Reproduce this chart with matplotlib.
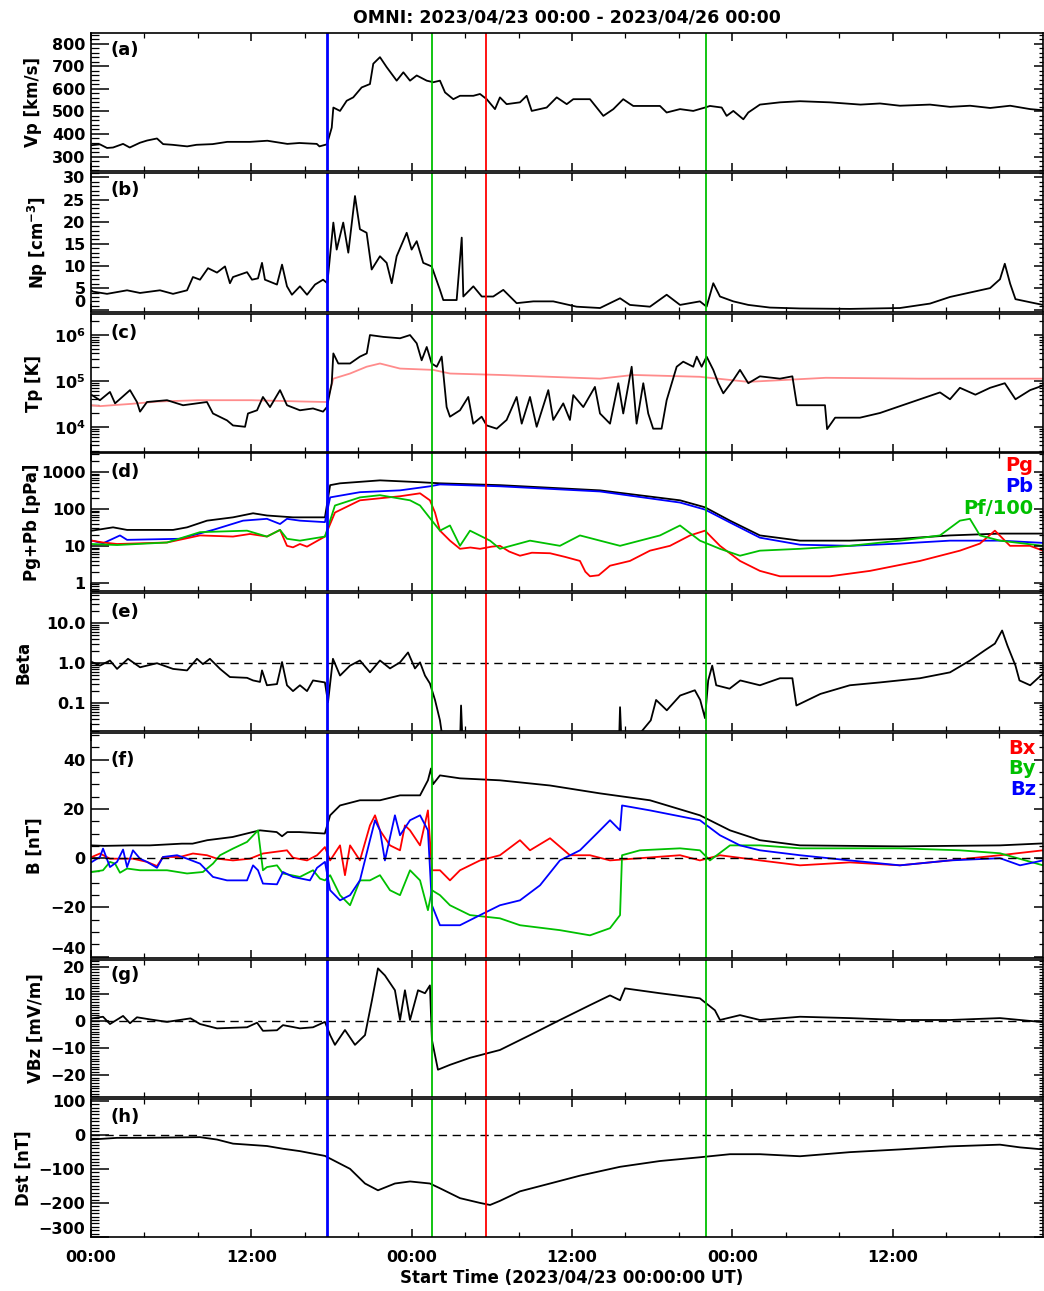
import numpy as np
import matplotlib.pyplot as plt
from matplotlib.ticker import MultipleLocator, FixedLocator, LogLocator, NullFormatter, FuncFormatter

plt.rcParams['font.family'] = ['DejaVu Sans']
plt.rcParams['font.weight'] = 'bold'
plt.rcParams['mathtext.default'] = 'bf'

# ---------------- data (hours since 2023/04/23 00:00) ----------------
t_vp = [0, 0.67, 1.2, 1.65, 2.4, 2.9, 3.66, 4.2, 4.94, 5.4, 6.1, 7.2, 7.9, 9.1, 10.2, 11.9, 13.2, 14.7,
        15.6, 16.9, 17.1, 17.66, 18.02, 18.14, 18.64, 19.14, 19.63, 20.26, 20.88, 21.13, 21.63, 22.13,
        22.88, 23.38, 23.88, 24.38, 25.13, 25.62, 26.12, 26.5, 27.12, 27.62, 28.62, 29.12, 29.62, 30.24,
        30.61, 31.11, 32.11, 32.61, 32.99, 34.11, 34.86, 35.61, 36.1, 37.35, 38.35, 39.1, 39.84, 40.59,
        41.84, 42.59, 43.09, 44.09, 45.08, 45.96, 46.33, 47.21, 47.58, 48.08, 48.83, 49.2, 50.07, 51.57,
        53.07, 55.3, 57.6, 59.06, 60.55, 62.8, 64.3, 65.8, 67.3, 68.8, 70.3, 71.26]
vp = [350, 354, 338, 340, 356, 340, 361, 371, 380, 355, 352, 345, 352, 355, 365, 365, 370, 356,
      360, 356, 345, 354, 428, 517, 502, 547, 562, 606, 621, 711, 740, 696,
      636, 673, 636, 659, 636, 629, 636, 584, 554, 569, 569, 577, 554, 510,
      562, 532, 540, 569, 502, 517, 562, 532, 554, 554, 480, 510, 554, 524,
      524, 524, 495, 510, 502, 517, 524, 517, 480, 502, 465, 495, 530, 540,
      545, 540, 530, 535, 525, 530, 520, 525, 515, 525, 510, 505]

t_np = [0, 0.15, 1.2, 2.7, 3.67, 5.16, 6.14, 7.19, 7.63, 8.16, 8.76, 9.43, 10.03, 10.4, 10.63, 11.68,
        12.05, 12.5, 12.8, 13.02, 13.92, 14.3, 14.67, 15.04, 15.64, 16.17, 16.77, 17.37, 17.69, 18.14,
        18.39, 18.88, 19.26, 19.76, 20.13, 20.63, 21.01, 21.63, 22.13, 22.51, 22.88, 23.63, 24.0, 24.38,
        24.87, 25.5, 26.12, 26.37, 27.37, 27.75, 27.87, 28.62, 29.25, 30.11, 30.86, 31.86, 33.11, 34.6,
        36.35, 38.1, 39.6, 40.34, 41.84, 43.09, 44.09, 45.58, 46.08, 46.58, 47.08, 48.08, 49.2, 50.82,
        53.07, 56.8, 60.55, 62.8, 64.3, 65.8, 67.3, 68.04, 68.4, 68.8, 69.2, 70.3, 71.26]
np_ = [4.5, 4.2, 3.7, 4.5, 3.9, 4.5, 3.7, 4.5, 7.5, 6.9, 9.5, 8.5, 9.9, 6.1, 7.5, 8.6,
       6.9, 7.2, 10.7, 6.9, 5.8, 10.3, 5.4, 3.5, 5.4, 3.5, 5.8, 6.9, 6.1, 19.8,
       13.7, 19.8, 13.0, 25.8, 18.3, 17.5, 9.2, 12.2, 10.7, 6.1, 12.2, 17.5, 13.7, 15.6,
       10.7, 9.9, 4.6, 2.3, 2.3, 16.4, 3.1, 5.4, 3.1, 3.1, 4.6, 1.6, 2.0, 2.0,
       0.8, 0.5, 2.7, 1.2, 0.8, 3.5, 1.2, 2.0, 0.8, 6.1, 3.1, 2.0, 1.2, 0.6,
       0.4, 0.3, 0.5, 1.5, 3.0, 4.0, 5.0, 7.0, 10.5, 6.0, 2.5, 1.8, 1.2]

t_tp = [0.07, 0.67, 1.42, 1.8, 2.92, 3.44, 3.67, 4.19, 5.69, 6.89, 8.68, 9.13, 10.18, 10.63, 11.53,
        11.75, 12.43, 12.87, 13.4, 14.15, 14.67, 15.64, 16.62, 17.37, 17.66, 18.02, 18.14, 18.51, 19.39,
        20.13, 20.64, 20.88, 21.88, 23.13, 23.88, 24.38, 24.75, 25.13, 25.5, 25.88, 26.25, 26.62, 26.87,
        27.62, 28.24, 28.61, 29.24, 29.62, 30.37, 31.11, 31.86, 32.24, 32.86, 33.36, 34.23, 34.6, 35.35,
        35.85, 36.1, 36.85, 37.72, 38.1, 38.85, 39.47, 39.84, 40.47, 40.84, 41.34, 41.71, 42.08, 42.71,
        43.09, 43.84, 44.33, 45.08, 45.34, 45.71, 46.08, 46.58, 46.96, 47.33, 48.08, 48.58, 49.2, 50.07,
        51.57, 52.5, 52.84, 54.94, 55.1, 55.7, 57.56, 59.06, 60.55, 62.05, 63.55, 64.3, 65.04, 66.2,
        67.3, 68.4, 69.2, 70.3, 71.26]
tp = [49000, 38000, 57500, 32400, 63000, 34700, 21400, 34700, 38000, 29500, 34700, 19500, 13800, 10700, 10000,
      19500, 22900, 44700, 26900, 63000, 29500, 22900, 25100, 21400, 26900, 89000, 398000, 240000, 240000,
      339000, 398000, 1000000, 912000, 851000, 1000000, 661000, 282000, 550000, 240000, 204000, 339000, 26900, 16600,
      22900, 44700, 11700, 16600, 10700, 9100, 14100, 44700, 11700, 44700, 10000, 63000, 14100, 32400,
      14100, 49000, 26900, 74100, 19500, 11700, 89100, 19500, 204000, 11700, 89100, 19500, 9100, 9100,
      38000, 204000, 263000, 204000, 339000, 204000, 339000, 174000, 89100, 53700, 105000, 174000, 89100, 126000,
      112000, 126000, 29500, 29500, 8900, 15800, 15800, 20000, 28200, 39800, 56200, 39800, 70800, 50100,
      70800, 89100, 39800, 63100, 79400]

t_texp = [0, 0.67, 3.0, 5.0, 8.0, 12.0, 16.0, 17.66, 18.14, 19.39, 20.63, 21.63, 23.13, 25.62, 26.87,
          30.61, 38.1, 40.59, 45.58, 49.2, 55.0, 62.0, 71.26]
texp = [29500, 28200, 31600, 35500, 38000, 38000, 35500, 34700, 112000, 145000, 204000, 240000, 186000,
        174000, 145000, 135000, 112000, 135000, 123000, 95500, 117000, 112000, 112000]

t_ptot = [0.07, 1.65, 2.7, 6.14, 7.19, 8.68, 10.63, 12.13, 13.17, 15.12, 17.51, 17.9, 18.64, 21.63, 24.63,
          26.12, 30.61, 38.1, 44.09, 45.96, 47.83, 50.07, 53.07, 56.8, 60.55, 64.3, 68.04, 71.26]
ptot = [25.7, 31.6, 26.9, 26.9, 31.6, 47.9, 58.9, 75.9, 66.1, 58.9, 58.9, 437, 490, 589, 525,
        490, 437, 316, 170, 110, 47.9, 19.1, 13.8, 13.8, 15.5, 19.1, 21.4, 21.4]
t_pb = [0.07, 0.9, 2.17, 2.7, 6.66, 9.13, 11.38, 13.17, 14.15, 14.67, 15.64, 17.51, 17.9, 20.13, 23.13,
        25.37, 26.12, 30.61, 38.1, 44.09, 45.96, 47.83, 50.07, 53.07, 56.8, 60.55, 64.3, 68.04, 71.26]
pb = [13.8, 11.7, 19.1, 14.5, 15.5, 26.9, 47.9, 53.7, 38.9, 53.7, 47.9, 43.7, 204, 282, 316,
      407, 457, 407, 295, 148, 95.5, 42.7, 16.6, 10.7, 10.0, 11.5, 13.8, 13.8, 12.0]
t_pg = [0.07, 0.9, 1.95, 5.69, 8.16, 10.63, 11.9, 13.17, 14.15, 14.67, 15.12, 15.64, 16.17, 17.51, 18.26,
        20.13, 23.13, 24.63, 25.37, 25.75, 26.12, 26.87, 27.62, 28.4, 29.12, 30.0, 30.61, 31.3, 32.11,
        33.0, 34.36, 35.5, 36.6, 37.0, 37.35, 38.0, 38.85, 40.34, 41.84, 43.34, 44.84, 45.96, 47.08,
        48.58, 50.07, 51.57, 55.31, 58.31, 62.05, 65.04, 66.54, 67.66, 68.79, 70.28, 71.26]
pg = [13.8, 12.3, 11.2, 12.3, 19.1, 17.8, 20.9, 17.8, 26.9, 10, 9.1, 11.2, 9.5, 17.8, 79.4,
      170, 219, 263, 170, 79.4, 25.7, 13.8, 8.3, 9.0, 8.3, 9.5, 10, 7.0, 5.4,
      6.5, 6.3, 5.0, 3.9, 2.0, 1.5, 1.6, 2.9, 3.9, 7.4, 10, 19.1, 25.7, 10,
      3.9, 2.1, 1.5, 1.5, 2.1, 3.9, 7.4, 11.5, 25.7, 10, 10, 7.4]
t_pf = [0.07, 1.95, 5.69, 8.16, 11.68, 13.17, 14.15, 14.67, 15.64, 17.51, 18.26, 20.13, 21.63, 23.88,
        24.63, 25.52, 26.12, 26.87, 27.62, 28.37, 29.87, 30.61, 32.86, 35.1, 36.6, 38.1, 39.6, 42.59,
        44.09, 45.58, 47.08, 48.58, 50.07, 53.07, 56.8, 60.55, 63.55, 65.04, 65.79, 66.54, 68.04, 71.26]
pf = [11.2, 10.5, 12.3, 23.4, 25.7, 17.8, 26.9, 15.5, 13.8, 17.8, 123, 204, 234, 170,
      123, 47.9, 25.7, 35.5, 10, 25.7, 13.8, 8.3, 13.8, 10, 19.1, 13.8, 10, 19.1,
      35.5, 13.8, 8.3, 5.4, 7.4, 8.3, 10, 13.8, 19.1, 47.9, 53.7, 19.1, 13.8, 10]

t_beta = [0.07, 0.67, 1.42, 1.95, 2.77, 3.67, 4.94, 6.14, 7.19, 7.93, 8.38, 8.9, 9.66, 10.4, 11.68,
          12.13, 12.65, 12.8, 13.17, 13.92, 14.3, 14.67, 15.12, 15.64, 16.17, 16.62, 17.51, 17.74, 18.11,
          18.64, 19.39, 20.13, 20.88, 21.63, 22.38, 23.13, 23.73, 24.25, 24.63, 25.0, 25.37, 25.75, 26.12,
          26.5, 27.6, 27.7, 27.85, 39.5, 39.6, 39.75, 41.9, 42.3, 43.1, 44.1, 45.2, 45.6, 45.96, 46.2,
          46.5, 46.8, 47.8, 48.6, 50.07, 51.57, 52.5, 52.8, 54.6, 56.8, 59.06, 62.05, 64.3, 65.8, 66.9,
          67.66, 68.2, 68.6, 69.2, 69.5, 70.3, 71.26]
beta = [1.07, 0.87, 1.17, 0.72, 1.29, 0.79, 1.0, 0.72, 0.66, 1.29, 0.95, 1.29, 0.72, 0.45, 0.43,
        0.37, 0.34, 0.66, 0.28, 0.30, 1.07, 0.28, 0.20, 0.28, 0.20, 0.37, 0.33, 0.105, 1.29,
        0.49, 0.87, 1.17, 0.59, 1.17, 0.74, 1.05, 1.86, 0.74, 1.05, 0.49, 0.31, 0.12, 0.037,
        0.005, 0.005, 0.087, 0.005, 0.005, 0.079, 0.005, 0.037, 0.12, 0.066, 0.155, 0.21, 0.12, 0.042, 0.37,
        0.87, 0.28, 0.23, 0.37, 0.28, 0.42, 0.42, 0.087, 0.17, 0.28, 0.33, 0.42, 0.59, 1.17, 2.1,
        3.1, 6.6, 2.75, 0.87, 0.37, 0.28, 0.55]

t_bt = [0, 1, 3, 4.4, 6.8, 7.6, 8.7, 10.6, 12.1, 12.65, 13.9, 14.3, 14.7, 15.6, 17.5, 17.9, 18.64, 20.13,
        21.63, 23.13, 24.63, 25.22, 25.45, 25.6, 26.12, 27.62, 30.61, 34.36, 38.1, 41.84, 45.58, 47.83,
        50.07, 53.07, 60.55, 68.04, 71.26]
bt = [5.2, 5.0, 5.2, 5.2, 5.9, 5.9, 7.3, 8.6, 10.6, 11.3, 10.6, 8.9, 10.6, 10.6, 10.0, 17.4, 21.4, 23.5,
      23.5, 25.5, 25.5, 31.6, 36.4, 30, 33.6, 32.4, 31.6, 29.5, 26.3, 23.5, 17.4, 11.3,
      7.3, 5.2, 4.8, 5.2, 6.0]
t_bx = [0.07, 0.67, 1.42, 3.14, 4.19, 4.94, 5.39, 6.66, 7.63, 8.68, 9.43, 10.63, 11.9, 12.87, 14.67, 15.12,
        16.17, 16.92, 17.51, 17.9, 18.64, 19.01, 19.39, 20.13, 20.88, 21.26, 21.63, 22.38, 23.13, 23.5,
        23.88, 24.63, 25.22, 25.52, 26.12, 26.87, 27.62, 29.12, 30.61, 32.11, 32.86, 34.36, 35.85, 37.35,
        38.85, 41.09, 44.09, 45.58, 47.08, 50.07, 53.07, 56.8, 60.55, 64.3, 68.04, 71.26]
bx = [0.5, 1.9, -0.2, -0.2, -1.5, -3.2, 0.5, 0.5, 1.9, 1.2, -0.2, -0.9, -0.2, 1.9, 3.2, 0.2,
      -0.9, 1.2, 4.5, -0.9, 5.2, -6.9, 5.2, -0.9, 13.3, 17.4, 11.3, 5.2, 3.2, 13.3,
      11.3, 5.2, 19.4, -4.9, -4.9, -9.0, -4.9, -0.9, 1.2, 7.3, 3.2, 8.1, 1.2, 1.2,
      -0.9, 0, 1.2, -0.9, 1.2, -0.9, -2.9, -1.7, -2.9, -0.9, 1.2, 3.2]
t_by = [0.07, 0.9, 1.42, 1.8, 2.17, 2.7, 3.67, 5.69, 7.19, 8.38, 9.13, 9.66, 10.63, 11.68, 12.5, 12.87,
        13.17, 13.92, 14.37, 15.64, 16.62, 17.14, 17.51, 17.9, 18.64, 19.39, 20.13, 20.88, 21.63, 22.38,
        23.13, 23.88, 24.63, 25.22, 25.52, 26.12, 26.87, 28.37, 30.61, 32.11, 35.1, 37.35, 38.85, 39.6,
        39.75, 41.09, 44.09, 45.58, 46.33, 47.83, 50.07, 53.07, 60.55, 65.04, 68.04, 71.26]
by = [-5.6, -4.9, -1.5, -2.2, -5.9, -4.2, -4.9, -4.9, -6.2, -5.6, -2.2, 1.2, 3.9, 6.6, 11.3, -4.9,
      -3.6, -2.9, -6.2, -7.6, -4.9, -8.3, -9.0, -6.9, -15, -19.1, -9.0, -9.0, -6.9, -13,
      -15, -4.9, -9.0, -21.1, -13, -15, -19.1, -23.1, -24.4, -27.2, -29.2, -31.3, -28.4, -23.1,
      1.2, 3.2, 4.0, 3.2, -0.9, 5.2, 5.2, 4.0, 4.0, 3.2, 2.0, -2.9]
t_bz = [0.07, 0.67, 0.9, 1.42, 1.95, 2.4, 2.7, 3.14, 3.67, 4.19, 4.94, 5.39, 6.44, 7.19, 8.16, 9.13,
        10.18, 11.68, 12.13, 12.5, 12.87, 13.92, 14.37, 15.12, 16.39, 16.92, 17.51, 17.9, 18.64, 19.39,
        20.13, 20.88, 21.26, 21.63, 22.0, 22.75, 23.13, 23.88, 24.63, 25.22, 25.52, 26.12, 27.62, 29.12,
        30.61, 32.11, 33.61, 35.1, 36.6, 38.1, 38.85, 39.6, 39.75, 41.84, 45.58, 47.08, 48.58, 50.07,
        53.07, 56.8, 60.55, 64.3, 68.04, 69.54, 71.26]
bz = [-1.5, 0.5, 3.9, -3.6, -1.5, 3.5, -3.6, 3.2, -0.2, -1.5, -3.9, 0.5, 1.2, -0.2, -2.2, -7.6,
      -9.0, -9.0, -2.9, -4.9, -10.3, -10.6, -5.6, -7.6, -9.0, -3.9, -1.5, -13, -17.1, -15,
      -9.0, 7.3, 15.4, 11.3, -0.9, 17.4, 9.3, 15.4, 17.4, 11.3, -19.1, -27.2, -27.2, -23.1,
      -19.1, -17.1, -11, -0.9, 3.2, 11.3, 15.4, 11.3, 21.4, 19.4, 15.4, 9.3, 5.2, 3.2,
      1.2, -0.9, -2.9, -0.9, 0, -2.9, -0.9]

t_vbz = [0.07, 0.9, 1.42, 2.4, 2.92, 3.44, 4.44, 5.69, 7.45, 8.16, 9.43, 11.68, 12.43, 12.87, 13.92,
         14.37, 15.64, 16.62, 17.51, 17.9, 18.26, 19.01, 19.76, 20.51, 21.03, 21.48, 22.0, 22.75, 23.13,
         23.5, 23.88, 24.48, 25.0, 25.37, 25.52, 25.97, 26.87, 28.37, 30.61, 32.86, 35.1, 37.35, 38.85,
         39.6, 39.97, 42.59, 45.58, 46.7, 47.08, 48.58, 50.07, 53.07, 56.8, 60.55, 64.3, 68.04, 71.26]
vbz = [0.9, 1.5, -1.2, 1.8, -0.9, 1.3, 0.5, -0.4, 0.9, -1.2, -2.8, -2.4, -0.7, -3.7, -3.5,
       -1.6, -2.8, -2.4, -0.4, -5.3, -8.9, -3.4, -8.9, -5.3, 7.6, 19.4, 16.8, 11.3, 0.3,
       11.3, 0.3, 11.3, 10.2, 13.1, -7.1, -18.1, -16.3, -13.7, -10.8, -5.3, 0.3, 5.8, 9.4,
       7.6, 12.0, 10.2, 8.3, 3.9, 0.3, 2.1, 0.3, 1.5, 1.0, 0.3, 0.3, 1.0, -0.5]

t_dst = [0, 1.95, 4, 8.16, 9.43, 10.63, 13.17, 14.37, 15.64, 17.51, 19.39, 20.51, 21.48, 22.75, 23.88,
         25.37, 26.12, 27.62, 29.12, 29.87, 30.61, 32.11, 34.36, 36.6, 39.6, 42.59, 45.58, 47.83, 50.07,
         53.07, 56.8, 60.55, 64.3, 68.04, 69.54, 71.26]
dst = [-14, -9, -9, -7, -14, -26, -33, -41, -48, -62, -100, -143, -163, -143, -137,
       -143, -157, -186, -200, -206, -194, -166, -143, -120, -94, -77, -66, -57, -57,
       -63, -51, -43, -34, -29, -37, -43]

event_t = [17.66, 25.52, 29.57, 46.03]
event_c = ['#0000ff', '#00c000', '#ff0000', '#00c000']
event_w = [2.0, 1.3, 1.3, 1.3]

GREEN = '#00c000'
PINK = '#ff8c8c'

# ---------------- layout (pixels of a 1044x1291 image) ----------------
W, H = 1044, 1291
fig = plt.figure(figsize=(W / 100, H / 100), dpi=100)
tops = [33, 173, 314, 453, 593, 733, 960, 1099]
bots = [171, 312, 452, 591, 731, 958, 1097, 1237]
x_l, x_r = 91, 1043
axes = []
for tp_, bp_ in zip(tops, bots):
    ax = fig.add_axes([x_l / W, 1 - bp_ / H, (x_r - x_l) / W, (bp_ - tp_) / H])
    axes.append(ax)

lw = 1.3
axa, axb, axc, axd, axe, axf, axg, axh = axes

axa.plot(t_vp, vp, color='k', lw=lw)
axb.plot(t_np, np_, color='k', lw=lw)
axc.plot(t_texp, texp, color=PINK, lw=lw)
axc.plot(t_tp, tp, color='k', lw=lw)
axd.plot(t_ptot, ptot, color='k', lw=lw)
axd.plot(t_pb, pb, color='b', lw=lw)
axd.plot(t_pg, pg, color='r', lw=lw)
axd.plot(t_pf, pf, color=GREEN, lw=lw)
axe.plot(t_beta, beta, color='k', lw=lw)
axf.plot(t_bt, bt, color='k', lw=lw)
axf.plot(t_bx, bx, color='r', lw=lw)
axf.plot(t_by, by, color=GREEN, lw=lw)
axf.plot(t_bz, bz, color='b', lw=lw)
axg.plot(t_vbz, vbz, color='k', lw=lw)
axh.plot(t_dst, dst, color='k', lw=lw)

for ax, ref in [(axe, 1.0), (axf, 0), (axg, 0), (axh, 0)]:
    ax.axhline(ref, color='k', lw=1.0, dashes=(6, 4))

# y scales
ycfg = [
    ('linear', (236, 847), FixedLocator([300, 400, 500, 600, 700, 800]), MultipleLocator(20), None),
    ('linear', (-0.4, 31), FixedLocator([0, 5, 10, 15, 20, 25, 30]), MultipleLocator(1), None),
    ('log', (2820, 2.88e6), FixedLocator([1e4, 1e5, 1e6]), LogLocator(subs=np.arange(2, 10)),
     FuncFormatter(lambda v, p: r'10$^{%d}$' % round(np.log10(v)))),
    ('log', (0.6, 3236), FixedLocator([1, 10, 100, 1000]), LogLocator(subs=np.arange(2, 10)),
     FuncFormatter(lambda v, p: '%d' % round(v))),
    ('log', (0.02, 57.5), FixedLocator([0.1, 1, 10]), LogLocator(subs=np.arange(2, 10)),
     FuncFormatter(lambda v, p: '%.1f' % v)),
    ('linear', (-40.5, 50.8), FixedLocator([-40, -20, 0, 20, 40]), MultipleLocator(5), None),
    ('linear', (-28.2, 22.5), FixedLocator([-20, -10, 0, 10, 20]), MultipleLocator(1), None),
    ('linear', (-300, 105), FixedLocator([-300, -200, -100, 0, 100]), MultipleLocator(10), None),
]
ylabels = ['Vp [km/s]', 'Np [cm$^{-3}$]', 'Tp [K]', 'Pg+Pb [pPa]', 'Beta', 'B [nT]', 'VBz [mV/m]', 'Dst [nT]']
ylab_x = [42, 50, 43, 41, 32, 44, 45, 33]
tags = ['(a)', '(b)', '(c)', '(d)', '(e)', '(f)', '(g)', '(h)']
tag_y = [0.877, 0.878, 0.862, 0.865, 0.864, 0.88, 0.89, 0.87]

for i, ax in enumerate(axes):
    scale, lim, maj, mnr, fmt = ycfg[i]
    ax.set_yscale(scale)
    ax.set_ylim(lim)
    ax.yaxis.set_major_locator(maj)
    ax.yaxis.set_minor_locator(mnr)
    ax.yaxis.set_minor_formatter(NullFormatter())
    if fmt is not None:
        ax.yaxis.set_major_formatter(fmt)
    ax.set_xlim(0, 71.26)
    ax.xaxis.set_major_locator(MultipleLocator(12))
    ax.xaxis.set_minor_locator(MultipleLocator(4))
    ax.xaxis.set_major_formatter(FuncFormatter(lambda v, p: '%02d:00' % (int(round(v)) % 24)))
    ax.tick_params(axis='y', which='major', direction='in', length=13, width=1.1, labelsize=11.5, pad=4)
    ax.tick_params(axis='y', which='minor', direction='in', length=6, width=0.9)
    ax.tick_params(axis='x', which='major', direction='in', length=6, width=1.1, top=True,
                   labelsize=11.5, pad=9, labelbottom=(i == 7))
    ax.tick_params(axis='x', which='minor', direction='in', length=3.5, width=0.9, top=True)
    for s in ax.spines.values():
        s.set_linewidth(1.2)
    ax.set_ylabel(ylabels[i], fontsize=12, fontweight='bold')
    ax.yaxis.set_label_coords((ylab_x[i] - x_l) / (x_r - x_l), 0.5)
    ax.text(0.02, tag_y[i], tags[i], transform=ax.transAxes, fontsize=13, fontweight='bold',
            ha='left', va='center')
    for t, c, w in zip(event_t, event_c, event_w):
        ax.axvline(t, color=c, lw=w)
    # right-hand ticks (shorter, like IDL)
    tw = ax.twinx()
    tw.set_yscale(scale)
    tw.set_ylim(lim)
    tw.yaxis.set_major_locator(maj)
    tw.yaxis.set_minor_locator(mnr)
    tw.tick_params(axis='y', which='major', direction='in', length=6.5, width=1.1, labelright=False)
    tw.tick_params(axis='y', which='minor', direction='in', length=3, width=0.9)
    for s in tw.spines.values():
        s.set_visible(False)

# colour legends
for txt, yy, c in [('Pg', 0.906, 'r'), ('Pb', 0.754, 'b'), ('Pf/100', 0.601, GREEN)]:
    axd.text(0.9895, yy, txt, color=c, transform=axd.transAxes, fontsize=14, fontweight='bold',
             ha='right', va='center')
for txt, yy, c in [('Bx', 0.929, 'r'), ('By', 0.84, GREEN), ('Bz', 0.751, 'b')]:
    axf.text(0.9926, yy, txt, color=c, transform=axf.transAxes, fontsize=14, fontweight='bold',
             ha='right', va='center')

fig.text(567 / W, 1 - 17 / H, 'OMNI: 2023/04/23 00:00 - 2023/04/26 00:00', ha='center', va='center',
         fontsize=12.5, fontweight='bold')
fig.text(572 / W, 1 - 1278 / H, 'Start Time (2023/04/23 00:00:00 UT)', ha='center', va='center',
         fontsize=12, fontweight='bold')

# keep the lowest tick label of some panels inside the frame, as in the original
fig.canvas.draw()
for ax, val in [(axb, 0), (axf, -40), (axh, -300)]:
    for tick in ax.yaxis.get_major_ticks():
        if abs(tick.get_loc() - val) < 1e-6:
            tick.label1.set_verticalalignment('bottom')

fig.savefig('out.png', dpi=100)
